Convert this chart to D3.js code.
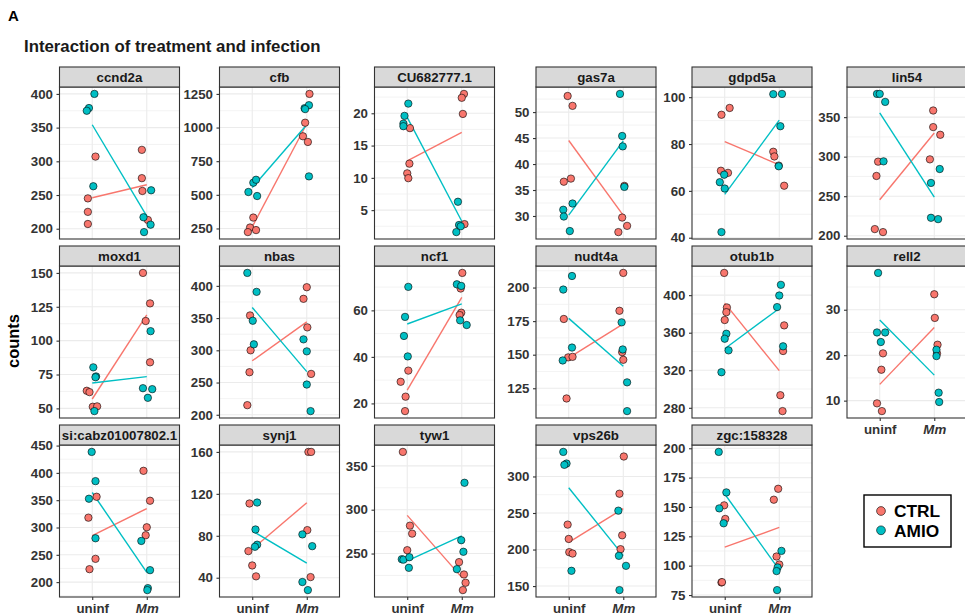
<!DOCTYPE html>
<html>
<head>
<meta charset="utf-8">
<script src="https://cdn.jsdelivr.net/npm/d3@7"></script>
<style>
  body { margin: 0; background: #fff; }
  svg { display: block; font-family: "Liberation Sans", Arial, Helvetica, sans-serif; }
</style>
</head>
<body>
<svg id="chart" width="965" height="616"></svg>
<script>
// ---- data -------------------------------------------------------------
const genes = ["ccnd2a", "cfb", "CU682777.1", "gas7a", "gdpd5a", "lin54",
  "moxd1", "nbas", "ncf1", "nudt4a", "otub1b", "rell2",
  "si:cabz01007802.1", "synj1", "tyw1", "vps26b", "zgc:158328"];
const conditions = ["uninf", "Mm"];
const treatments = ["CTRL", "AMIO"];

const yTicks = [
  [200, 250, 300, 350, 400], [250, 500, 750, 1000, 1250], [5, 10, 15, 20],
  [30, 35, 40, 45, 50], [40, 60, 80, 100], [200, 250, 300, 350],
  [50, 75, 100, 125, 150], [200, 250, 300, 350, 400], [20, 40, 60],
  [125, 150, 175, 200], [280, 320, 360, 400], [10, 20, 30],
  [200, 250, 300, 350, 400, 450], [40, 80, 120, 160], [250, 300, 350],
  [150, 200, 250, 300], [75, 100, 125, 150, 175, 200]
];

// counts of the four replicates per gene
const ctrlUninf = [
  [307, 245, 225, 207], [331, 257, 223, 238], [17.7, 12.2, 10.7, 9.95],
  [53.1, 51.2, 37.2, 36.6], [92.5, 95.4, 68.6, 67.7], [293.7, 275.6, 208.4, 204.6],
  [63.0, 62.0, 51.2, 51.5], [354.1, 300, 266, 214.9], [34.1, 29.3, 22.9, 16.7],
  [176.6, 148, 148.4, 117.4], [423.7, 386.9, 381.9, 373.5], [20.4, 16.8, 9.4, 7.7],
  [356.3, 318, 242.6, 223.7], [110.8, 65.4, 51.7, 41.3], [365.9, 281.8, 272.7, 253.8],
  [234.1, 214.5, 196.4, 194.5], [151.4, 139.8, 85.7, 86.0]
];
const amioUninf = [
  [400, 379, 375, 263], [590, 612, 521, 491], [21.5, 19.6, 18.4, 18.0],
  [32.4, 31.2, 29.9, 27.1], [66.9, 63.7, 61.0, 42.4], [379.4, 379.4, 369.3, 294.1],
  [80.3, 73.6, 73.0, 48.0], [420.1, 390.7, 345.9, 309.3], [70.1, 57.2, 49.0, 40.2],
  [208.6, 198.5, 155.3, 145.7], [358.9, 353.6, 341.2, 317.9], [38.1, 25.0, 25.0, 22.9],
  [438.4, 384.9, 352.7, 280.3], [111.7, 86, 71.5, 69.5], [243.5, 243, 245.8, 233.7],
  [333.6, 317.7, 315.9, 170.9], [196.9, 162.4, 148.8, 136.1]
];
const ctrlMm = [
  [317, 275, 256, 213], [1250, 1036, 935, 893], [23.0, 22.4, 19.9, 2.83],
  [29.7, 28.1, 26.9, 35.8], [76.7, 74.7, 70.8, 62.2], [358.4, 337.4, 327.7, 296.6],
  [150, 127.5, 114.5, 84.0], [397.9, 379.9, 335.6, 263.4], [76.1, 69.4, 59.0, 58.0],
  [210.9, 182.7, 151.9, 146.2], [367.8, 340.5, 293.4, 276.5], [33.4, 28.2, 22.3, 20.4],
  [403.8, 349, 300.4, 285.8], [160, 160, 85.4, 40.6], [240.2, 226.1, 216.7, 208.3],
  [327.3, 276.4, 219.5, 200.5], [165.5, 156.2, 107.8, 101.0]
];
const amioMm = [
  [257, 217, 206, 195], [1144, 1166, 637, 1137], [6.3, 2.7, 2.5, 1.6],
  [53.5, 45.4, 43.4, 35.6], [101.3, 101.4, 87.6, 70.5], [284.4, 266.8, 222.7, 221.0],
  [107, 64.9, 64.2, 57.8], [317, 298.4, 246.9, 205.7], [71.2, 70.5, 55.7, 53.7],
  [174.1, 153.9, 129.4, 108], [411, 399.6, 387.3, 345.5], [21.2, 19.8, 11.75, 9.7],
  [275.4, 221.9, 189, 185.4], [81.3, 70.1, 35.9, 28.2], [330.7, 265.2, 252, 232.2],
  [253.2, 191.4, 177.7, 144.5], [112.6, 98.5, 95.4, 79.2]
];

// horizontal jitter of each replicate, in units of the category spacing
const jitCtrlUninf = [
  [0.06, -0.08, -0.08, -0.08], [0.02, -0.04, -0.08, 0.07], [0.05, 0.04, 0, 0.02],
  [-0.02, 0.07, 0.04, -0.09], [-0.06, 0.09, -0.07, 0.06], [-0.03, -0.06, -0.09, 0.06],
  [-0.10, -0.05, 0.01, 0.09], [-0.04, -0.03, -0.05, -0.09], [0.02, -0.12, -0.03, -0.04],
  [-0.09, -0.01, 0.07, -0.04], [-0.01, 0.04, 0.03, 0], [0.06, 0.03, -0.05, 0.04],
  [0.08, -0.07, 0.06, -0.05], [-0.05, -0.07, 0, 0.07], [-0.08, 0.05, 0.09, 0],
  [-0.02, 0, 0.01, 0.07], [-0.01, 0.01, -0.06, -0.05]
];
const jitAmioUninf = [
  [0.04, -0.06, -0.10, 0.02], [0.02, 0.07, -0.07, 0.09], [0.02, -0.05, -0.07, -0.07],
  [0.07, -0.10, -0.09, 0.02], [-0.01, -0.09, 0, -0.06], [-0.05, 0, 0.10, 0.07],
  [0.02, 0.07, 0.06, 0.04], [-0.09, 0.08, 0.01, 0.03], [0.02, -0.04, -0.06, 0.01],
  [0.06, -0.10, 0.06, -0.11], [0.03, 0, 0.07, -0.06], [-0.03, -0.05, 0.10, 0.02],
  [-0.01, 0.06, -0.06, 0.06], [0.09, 0.06, 0.09, 0.05], [-0.10, -0.07, 0.04, 0.03],
  [-0.10, -0.04, -0.08, 0.05], [-0.11, 0.03, -0.10, -0.02]
];
const jitCtrlMm = [
  [-0.09, -0.09, -0.08, 0.02], [0.05, -0.03, -0.07, 0.02], [0.04, 0, 0.02, 0.05],
  [-0.02, 0.07, -0.09, 0.02], [-0.11, -0.09, -0.01, 0.09], [-0.02, -0.02, 0.11, -0.08],
  [-0.07, 0.06, -0.02, 0.06], [0, -0.06, 0.01, 0.08], [0.01, -0.02, -0.01, -0.04],
  [0, -0.07, -0.02, 0], [0.09, 0.07, 0.02, 0.06], [0, 0.01, 0.06, 0.05],
  [-0.06, 0.06, 0, -0.02], [0.03, 0.08, 0.01, 0.07], [-0.05, 0.04, 0.07, 0.02],
  [0.01, -0.07, -0.02, -0.05], [-0.02, -0.10, -0.05, 0]
];
const jitAmioMm = [
  [0.08, -0.06, 0.07, -0.05], [-0.04, 0.04, 0.04, -0.03], [-0.07, -0.05, -0.02, -0.10],
  [-0.06, -0.02, -0.01, 0.02], [-0.11, 0.05, 0.02, -0.01], [0.10, -0.06, -0.06, 0.07],
  [0.07, -0.07, 0.10, 0.02], [-0.06, 0, 0, 0.07], [-0.09, -0.01, -0.03, 0.09],
  [-0.03, -0.01, 0.07, 0.07], [0.03, 0, -0.04, 0.07], [0.04, 0.04, 0.08, 0.09],
  [-0.10, 0.06, 0.02, 0.01], [-0.08, 0.10, -0.08, 0.02], [0.05, -0.01, 0.03, -0.09],
  [-0.09, -0.08, 0.05, -0.07], [0.04, -0.03, -0.05, -0.04]
];

// ---- layout & style ---------------------------------------------------
const colors = { CTRL: "#F8766D", AMIO: "#00BFC4" };
const colLeft = [59.5, 219.5, 374.5, 536, 692, 847];
const rowTop = [67, 246, 425];
const panelW = 120, stripH = 20, panelH = 152;
const nCols = 6;
const ink = "#333333";
const gridCol = "#ebebeb";

const svg = d3.select("#chart");
svg.append("rect").attr("width", 965).attr("height", 616).attr("fill", "#fff");

// panel label and title
svg.append("text").attr("x", 8).attr("y", 20.5)
  .attr("font-size", 15).attr("font-weight", "bold").attr("fill", "#000").text("A");
svg.append("text").attr("x", 24).attr("y", 51.5)
  .attr("font-size", 16.8).attr("font-weight", "bold").attr("fill", "#1a1a1a")
  .text("Interaction of treatment and infection");

// y axis title
svg.append("text")
  .attr("transform", "translate(18.5,341) rotate(-90)")
  .attr("text-anchor", "middle")
  .attr("font-size", 16.5).attr("font-weight", "bold").attr("fill", "#000")
  .text("counts");

const nPanels = genes.length;

genes.forEach((gene, i) => {
  const col = i % nCols, row = Math.floor(i / nCols);
  const left = colLeft[col];
  const top = rowTop[row] + stripH;
  const bottom = top + panelH;

  const groups = [
    { trt: "CTRL", cond: "uninf", vals: ctrlUninf[i], jit: jitCtrlUninf[i] },
    { trt: "AMIO", cond: "uninf", vals: amioUninf[i], jit: jitAmioUninf[i] },
    { trt: "CTRL", cond: "Mm", vals: ctrlMm[i], jit: jitCtrlMm[i] },
    { trt: "AMIO", cond: "Mm", vals: amioMm[i], jit: jitAmioMm[i] }
  ];

  const all = groups.flatMap(g => g.vals);
  const [lo, hi] = d3.extent(all);
  const pad = (hi - lo) * 0.05;
  const y = d3.scaleLinear().domain([lo - pad, hi + pad]).range([bottom, top]);
  const x = d3.scalePoint().domain(conditions).range([left, left + panelW]).padding(0.6);
  const step = x.step();

  const g = svg.append("g").attr("class", "panel");

  // background
  g.append("rect").attr("x", left).attr("y", top).attr("width", panelW).attr("height", panelH)
    .attr("fill", "#fff");

  // minor grid: midpoints of the (extended) major breaks
  const ticks = yTicks[i];
  const tStep = ticks[1] - ticks[0];
  const ext = [ticks[0] - tStep, ...ticks, ticks[ticks.length - 1] + tStep];
  const minors = d3.pairs(ext).map(([a, b]) => (a + b) / 2)
    .filter(v => v >= y.domain()[0] && v <= y.domain()[1]);
  g.selectAll(".minor").data(minors).join("line")
    .attr("x1", left).attr("x2", left + panelW)
    .attr("y1", d => y(d)).attr("y2", d => y(d))
    .attr("stroke", gridCol).attr("stroke-width", 0.6);
  g.selectAll(".major").data(ticks).join("line")
    .attr("x1", left).attr("x2", left + panelW)
    .attr("y1", d => y(d)).attr("y2", d => y(d))
    .attr("stroke", gridCol).attr("stroke-width", 1.1);
  g.selectAll(".vmajor").data(conditions).join("line")
    .attr("x1", d => x(d)).attr("x2", d => x(d))
    .attr("y1", top).attr("y2", bottom)
    .attr("stroke", gridCol).attr("stroke-width", 1.1);

  // mean lines per treatment
  treatments.forEach(trt => {
    const pts = conditions.map(cond => {
      const grp = groups.find(gr => gr.trt === trt && gr.cond === cond);
      return [x(cond), y(d3.mean(grp.vals))];
    });
    g.append("path")
      .attr("d", d3.line()(pts))
      .attr("fill", "none").attr("stroke", colors[trt]).attr("stroke-width", 1.4);
  });

  // jittered replicates
  const points = groups.flatMap(gr => gr.vals.map((v, k) => ({
    trt: gr.trt, cond: gr.cond, value: v, jit: gr.jit[k]
  })));
  g.selectAll(".pt").data(points).join("circle")
    .attr("cx", d => x(d.cond) + d.jit * step)
    .attr("cy", d => y(d.value))
    .attr("r", 3.7)
    .attr("fill", d => colors[d.trt])
    .attr("stroke", "#000").attr("stroke-width", 0.6);

  // panel border
  g.append("rect").attr("x", left).attr("y", top).attr("width", panelW).attr("height", panelH)
    .attr("fill", "none").attr("stroke", ink).attr("stroke-width", 1.1);

  // strip
  g.append("rect").attr("x", left).attr("y", rowTop[row]).attr("width", panelW).attr("height", stripH)
    .attr("fill", "#d9d9d9").attr("stroke", ink).attr("stroke-width", 1.1);
  g.append("text")
    .attr("x", left + panelW / 2).attr("y", rowTop[row] + stripH / 2)
    .attr("dy", "0.36em").attr("text-anchor", "middle")
    .attr("font-size", 13.3).attr("font-weight", "bold").attr("fill", "#1a1a1a")
    .text(gene);

  // y axis
  const ya = g.append("g").attr("transform", `translate(${left},0)`)
    .call(d3.axisLeft(y).tickValues(ticks).tickSize(3).tickPadding(3.5).tickFormat(d => String(d)));
  ya.select(".domain").remove();
  ya.selectAll(".tick line").attr("stroke", ink).attr("stroke-width", 1.1);
  ya.selectAll(".tick text")
    .attr("font-family", null).attr("font-size", 13.3).attr("font-weight", "bold").attr("fill", ink);

  // x axis on panels with nothing below them
  if (i + nCols >= nPanels) {
    const xa = g.append("g").attr("transform", `translate(0,${bottom})`)
      .call(d3.axisBottom(x).tickSize(3).tickPadding(3.5));
    xa.select(".domain").remove();
    xa.selectAll(".tick line").attr("stroke", ink).attr("stroke-width", 1.1);
    xa.selectAll(".tick text")
      .attr("font-family", null).attr("font-size", 13.3).attr("font-weight", "bold").attr("fill", ink)
      .attr("font-style", d => d === "Mm" ? "italic" : null);
  }
});

// legend
const lg = svg.append("g").attr("class", "legend");
lg.append("rect").attr("x", 864).attr("y", 495).attr("width", 87).attr("height", 52)
  .attr("fill", "#fff").attr("stroke", "#000").attr("stroke-width", 1.4);
treatments.forEach((t, k) => {
  const cy = 511 + k * 19.3;
  lg.append("circle").attr("cx", 881).attr("cy", cy).attr("r", 4.4)
    .attr("fill", colors[t]).attr("stroke", "#000").attr("stroke-width", 0.6);
  lg.append("text").attr("x", 894).attr("y", cy).attr("dy", "0.36em")
    .attr("font-size", 17.3).attr("font-weight", "bold").attr("fill", "#000").text(t);
});
</script>
</body>
</html>
